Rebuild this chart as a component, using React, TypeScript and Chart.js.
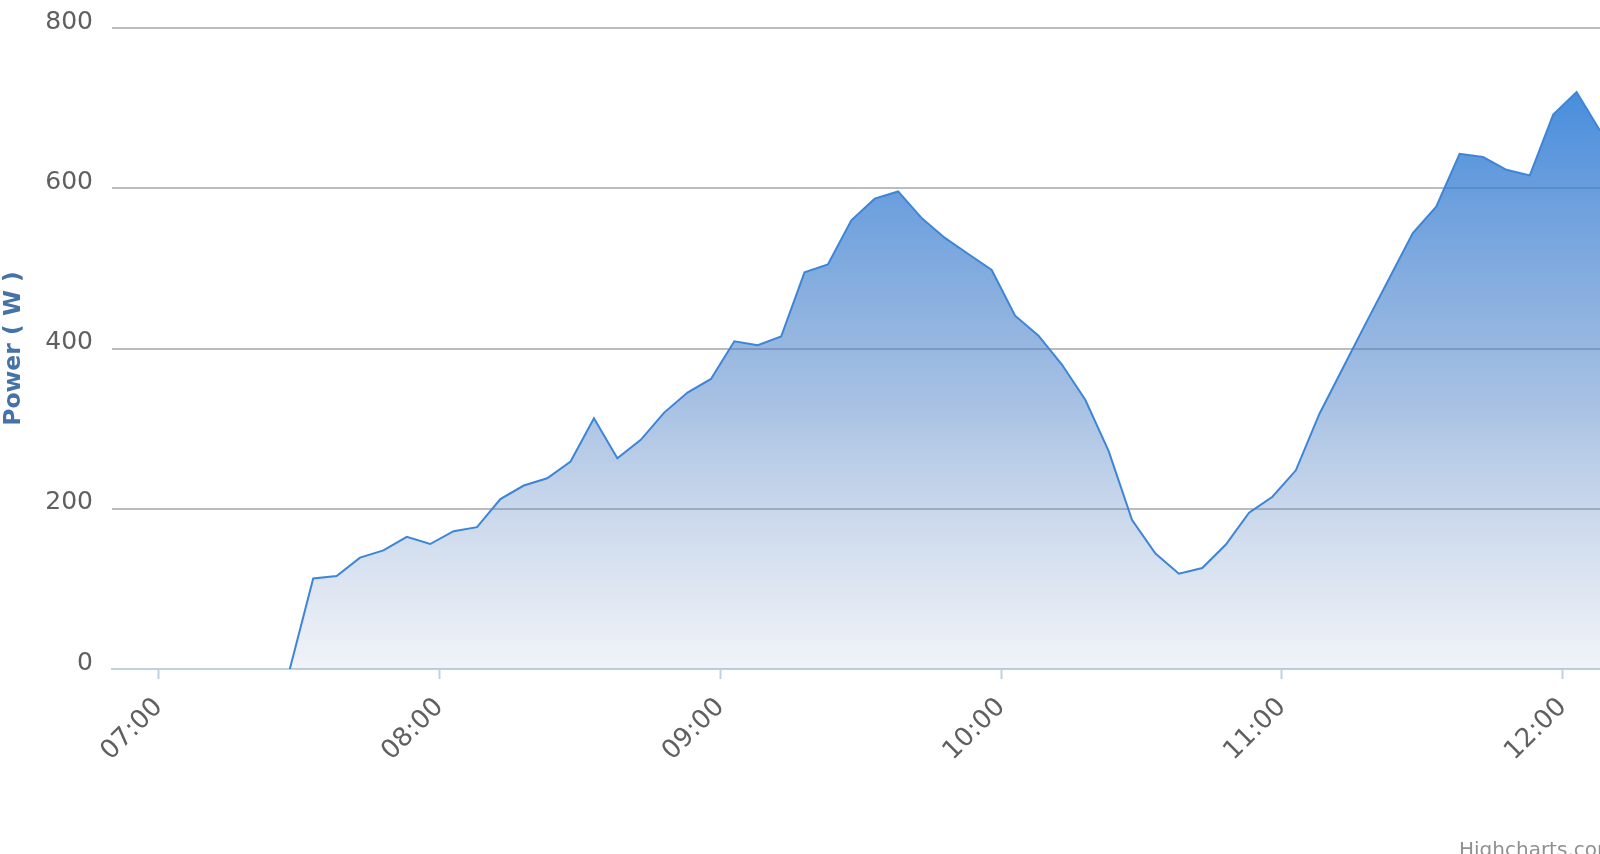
import React, { useEffect, useRef } from 'react';
import { Chart, registerables } from 'chart.js';

Chart.register(...registerables);

// ---- data ----
const times: string[] = [
  '07:28', '07:33', '07:38', '07:43', '07:48', '07:53', '07:58',
  '08:03', '08:08', '08:13', '08:18', '08:23', '08:28', '08:33', '08:38', '08:43', '08:48', '08:53', '08:58',
  '09:03', '09:08', '09:13', '09:18', '09:23', '09:28', '09:33', '09:38', '09:43', '09:48', '09:53', '09:58',
  '10:03', '10:08', '10:13', '10:18', '10:23', '10:28', '10:33', '10:38', '10:43', '10:48', '10:53', '10:58',
  '11:03', '11:08', '11:13', '11:18', '11:23', '11:28', '11:33', '11:38', '11:43', '11:48', '11:53', '11:58',
  '12:03', '12:08',
];

const power: number[] = [
  0, 113, 116, 139, 148, 165, 156,
  172, 177, 212, 229, 238, 259, 313, 263, 286, 320, 345, 362,
  409, 404, 415, 495, 505, 560, 587, 596, 563, 538, 518, 498,
  441, 416, 380, 336, 272, 186, 144, 119, 126, 155, 195, 215,
  248, 318, 375, 432, 488, 544, 577, 643, 639, 623, 616, 692,
  720, 672,
];

const hourTicks: string[] = ['07:00', '08:00', '09:00', '10:00', '11:00', '12:00'];
const xAxisStart = '06:50';
const xAxisEnd = '12:08';
const yMin = 0;
const yMax = 800;
const yStep = 200;
const yTitle = 'Power ( W )';
const creditText = 'Highcharts.com';

const toMin = (s: string): number => {
  const [h, m] = s.split(':');
  return parseInt(h, 10) * 60 + parseInt(m, 10);
};

const FONT = '"DejaVu Sans", Verdana, sans-serif';

export default function App() {
  const canvasRef = useRef<HTMLCanvasElement | null>(null);

  useEffect(() => {
    document.body.style.margin = '0';
    document.body.style.overflow = 'hidden';
    const canvas = canvasRef.current;
    if (!canvas) return;

    const maxVal = Math.max(...power);

    const creditPlugin = {
      id: 'credit',
      afterDraw(chart: any) {
        const c = chart.ctx;
        c.save();
        c.font = `20px ${FONT}`;
        c.fillStyle = '#909090';
        c.textAlign = 'left';
        c.textBaseline = 'alphabetic';
        c.fillText(creditText, 1459, 856);
        c.restore();
      },
    };

    const chart = new Chart(canvas, {
      type: 'line',
      data: {
        datasets: [
          {
            data: times.map((t, i) => ({ x: toMin(t), y: power[i] })),
            borderColor: '#3d85d6',
            borderWidth: 2,
            pointRadius: 0,
            tension: 0,
            fill: 'origin',
            backgroundColor: (ctx: any) => {
              const ch = ctx.chart;
              const area = ch.chartArea;
              if (!area) return 'rgba(74,138,216,0.5)';
              const top = ch.scales.y.getPixelForValue(maxVal);
              const g = ch.ctx.createLinearGradient(0, top, 0, area.bottom);
              g.addColorStop(0, 'rgba(47,126,216,0.88)');
              g.addColorStop(0.53, 'rgba(77,129,199,0.5)');
              g.addColorStop(1, 'rgba(130,155,197,0.12)');
              return g;
            },
          },
        ],
      },
      options: {
        animation: false,
        responsive: false,
        devicePixelRatio: 1,
        layout: { padding: { top: 28, left: 0, right: 0, bottom: 0 } },
        plugins: {
          legend: { display: false },
          tooltip: { enabled: false },
        },
        scales: {
          x: {
            type: 'linear',
            min: toMin(xAxisStart),
            max: toMin(xAxisEnd),
            afterBuildTicks: (scale: any) => {
              scale.ticks = hourTicks.map((t) => ({ value: toMin(t) }));
            },
            afterFit: (scale: any) => {
              scale.height = 185;
              scale.paddingLeft = 0;
              scale.paddingRight = 0;
            },
            ticks: {
              autoSkip: false,
              minRotation: 45,
              maxRotation: 45,
              padding: 13,
              color: '#606060',
              font: { family: FONT, size: 26 },
              callback: (v: any) => {
                const f = hourTicks.find((t) => toMin(t) === v);
                return f ?? '';
              },
            },
            grid: {
              drawOnChartArea: false,
              drawTicks: true,
              tickLength: 10,
              tickColor: '#C0D0E0',
              tickWidth: 2,
            },
            border: { display: true, color: '#C0D0E0', width: 2 },
          },
          y: {
            type: 'linear',
            min: yMin,
            max: yMax,
            afterFit: (scale: any) => {
              scale.width = 112;
              scale.paddingTop = 0;
              scale.paddingBottom = 0;
            },
            ticks: {
              stepSize: yStep,
              padding: 19,
              labelOffset: -6,
              color: '#606060',
              font: { family: FONT, size: 25 },
            },
            grid: {
              drawTicks: false,
              lineWidth: 2,
              color: (ctx: any) => (ctx.tick && ctx.tick.value === 0 ? 'rgba(0,0,0,0)' : '#BCBCBC'),
            },
            border: { display: false },
            title: {
              display: true,
              text: yTitle,
              color: '#4572A7',
              font: { family: FONT, size: 23.5, weight: 'bold' },
              padding: { top: 0, bottom: 0 },
            },
          },
        },
      },
      plugins: [creditPlugin],
    } as any);

    return () => chart.destroy();
  }, []);

  return (
    <div
      style={{
        position: 'fixed',
        left: 0,
        top: 0,
        width: 1600,
        height: 854,
        overflow: 'hidden',
        background: '#ffffff',
      }}
    >
      <canvas ref={canvasRef} width={1600} height={854} style={{ width: 1600, height: 854, display: 'block' }} />
    </div>
  );
}
